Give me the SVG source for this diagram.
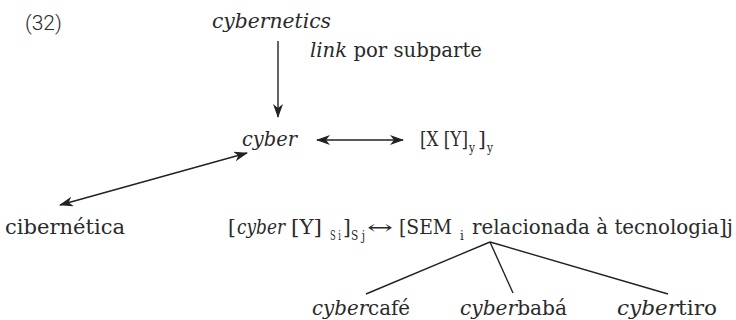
<svg xmlns="http://www.w3.org/2000/svg" width="736" height="320" viewBox="0 0 736 320">
<style>
.t{font-family:"DejaVu Serif","Liberation Serif",serif;font-size:20px;fill:#2a2a2a}
.i{font-style:italic}
.sub{font-family:"DejaVu Serif","Liberation Serif",serif;font-size:12px;fill:#2a2a2a}
.num{font-family:Roboto,"Liberation Sans",sans-serif;font-size:21px;font-weight:300;fill:#2a2a2a}
.ln{stroke:#222;stroke-width:1.4;fill:none}
</style>
<defs>
<marker id="ah" viewBox="0 0 14 10" refX="13" refY="5" markerWidth="14" markerHeight="10" markerUnits="userSpaceOnUse" orient="auto-start-reverse">
<path d="M0,0 L14,5 L0,10 L4,5 z" fill="#222"/>
</marker>
</defs>
<g id="label32"><text class="num" x="25" y="30">(32)</text></g>
<g id="cybernetics"><text class="t i" x="212" y="28" textLength="119" lengthAdjust="spacingAndGlyphs">cybernetics</text></g>
<g id="linklabel"><text class="t" x="310" y="57" textLength="172" lengthAdjust="spacingAndGlyphs"><tspan class="i">link</tspan> por subparte</text></g>
<g id="cyber"><text class="t i" x="242" y="146" textLength="55" lengthAdjust="spacingAndGlyphs">cyber</text></g>
<g id="schema">
<text class="t" x="420" y="146" textLength="48" lengthAdjust="spacingAndGlyphs">[X [Y]</text>
<text class="sub" x="469" y="152" textLength="6" lengthAdjust="spacingAndGlyphs">y</text>
<text class="t" x="478" y="146">]</text>
<text class="sub" x="487" y="152" textLength="6" lengthAdjust="spacingAndGlyphs">y</text>
</g>
<g id="cibernetica"><text class="t" x="5" y="234" textLength="120" lengthAdjust="spacingAndGlyphs">cibernética</text></g>
<g id="construction">
<text class="t" x="228" y="234">[</text>
<text class="t i" x="237" y="234" textLength="48" lengthAdjust="spacingAndGlyphs">cyber</text>
<text class="t" x="291" y="234" textLength="31" lengthAdjust="spacingAndGlyphs">[Y]</text>
<text class="sub" x="330" y="240" textLength="11" lengthAdjust="spacingAndGlyphs">S i</text>
<text class="t" x="343" y="234">]</text>
<text class="sub" x="351" y="240" textLength="14" lengthAdjust="spacingAndGlyphs">S j</text>
<text class="t" x="367" y="234" textLength="26" lengthAdjust="spacingAndGlyphs">↔</text>
<text class="t" x="399" y="234" textLength="53" lengthAdjust="spacingAndGlyphs">[SEM</text>
<text class="sub" x="460" y="240">i</text>
<text class="t" x="472" y="234" textLength="261" lengthAdjust="spacingAndGlyphs">relacionada à tecnologia]j</text>
</g>
<g id="cybercafe"><text class="t" x="312" y="315" textLength="98" lengthAdjust="spacingAndGlyphs"><tspan class="i">cyber</tspan>café</text></g>
<g id="cyberbaba"><text class="t" x="460" y="315" textLength="107" lengthAdjust="spacingAndGlyphs"><tspan class="i">cyber</tspan>babá</text></g>
<g id="cybertiro"><text class="t" x="617" y="315" textLength="100" lengthAdjust="spacingAndGlyphs"><tspan class="i">cyber</tspan>tiro</text></g>
<g id="connectors">
<line class="ln" x1="278" y1="41" x2="278" y2="117" marker-end="url(#ah)"/>
<line class="ln" x1="317" y1="140" x2="403" y2="140" marker-start="url(#ah)" marker-end="url(#ah)"/>
<line class="ln" x1="60" y1="205" x2="247" y2="153" marker-start="url(#ah)" marker-end="url(#ah)"/>
<line class="ln" x1="490" y1="242" x2="366" y2="294"/>
<line class="ln" x1="490" y1="242" x2="513" y2="293"/>
<line class="ln" x1="490" y1="242" x2="668" y2="294"/>
</g>
</svg>
